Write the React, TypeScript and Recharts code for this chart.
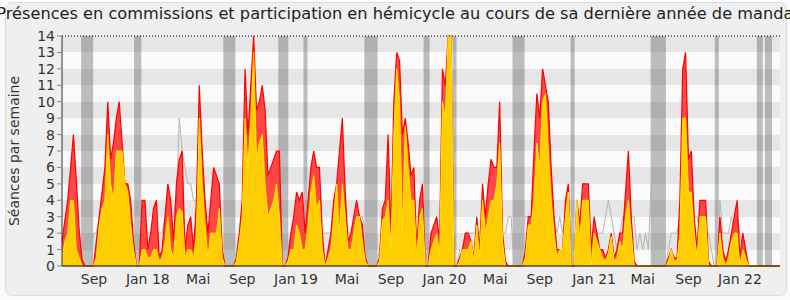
import React from "react";
import {
  AreaChart,
  Area,
  XAxis,
  YAxis,
  CartesianGrid,
  ReferenceArea,
  ReferenceLine,
  Label,
} from "recharts";

// séances par semaine, une valeur par semaine (juin 2017 -> mars 2022)
const presenceTotale = [
  1.5, 2.8, 4, 6, 8, 5.2, 2.2, 0.4, 0, 0, 0, 0, 1.5, 3, 4.5, 6, 10, 6.5, 7.5, 9,
  10, 7.5, 5, 5, 4, 1.5, 0, 0, 4, 4, 1, 2, 3.5, 4, 0.5, 1, 3, 5, 4, 1.5,
  5, 6.5, 7, 1, 2.5, 3, 1, 4, 11, 7, 4, 2, 4, 6, 5.5, 5, 1, 0, 0, 0,
  0, 0.5, 2, 4, 12, 8, 11, 14, 9.5, 10, 11, 9.5, 5.5, 6, 6.5, 7, 7, 0, 0, 0.5,
  2, 3, 4.5, 4, 4.5, 2, 4, 6, 7, 6, 6, 2, 0, 1, 2, 4, 5, 7, 9, 4.5,
  1.5, 2, 3, 4, 3, 2.5, 0.5, 0, 0, 0, 0, 0.5, 3.5, 4, 8, 2, 10, 13, 12.5, 8,
  9, 7.5, 5.5, 6, 1, 4, 5, 0, 0, 2, 2.5, 3, 1.5, 12, 11, 14, 14, 0, 0, 0.5,
  1, 2, 2, 1.5, 0.5, 3, 1, 5, 3, 5, 6.5, 6, 6, 10, 2, 0.3, 0, 0, 0, 0,
  0, 0, 1, 3, 3, 7, 10.5, 9, 12, 11, 10, 6, 3, 1, 1, 1, 4, 5, 0, 0,
  4, 2.5, 5, 5, 5, 1, 3, 2, 1, 1, 0.5, 1, 2, 0.5, 1, 2, 2, 4.5, 7, 3,
  0.3, 0, 0, 0, 0, 0, 0, 0, 0, 0, 0, 0, 0.5, 1, 0.5, 0.5, 4, 12, 13, 6.5,
  7, 3, 1, 4, 4, 4, 0.3, 0, 0, 0, 3, 1, 0.3, 1, 2, 3, 4, 0.5, 2, 1,
  0, 0, 0, 0, 0, 0, 0, 0, 0, 0, 0, 0,
];

const presenceCommission = [
  0.5, 1.5, 2, 4, 4, 1, 0.5, 0, 0, 0, 0, 0, 0.5, 2.5, 3.5, 4, 8, 5, 4, 7,
  7, 7, 5, 4.5, 2.5, 1, 0, 0, 1, 1, 0.5, 0.5, 1, 1, 0.3, 0.5, 1.5, 3, 1, 0.5,
  3, 3.5, 3.3, 0.5, 1, 1, 0.5, 2, 9, 5, 2.5, 0.5, 2, 2, 2, 3.5, 0.5, 0, 0, 0,
  0, 0.3, 1.5, 3, 9, 6, 9, 13, 6.5, 7.5, 8, 5, 3, 3.5, 4, 5, 3, 0, 0, 0.3,
  1, 1, 2.5, 2, 1, 1, 2.5, 4.5, 5.5, 3.5, 4, 1, 0, 0.5, 1, 3, 5, 2, 5, 3,
  1, 1, 2, 3, 3, 1.5, 0.3, 0, 0, 0, 0, 0.3, 2.8, 3, 4, 1, 8, 12, 10, 2,
  8.5, 6, 4, 4, 0.5, 3, 3.5, 0, 0, 1, 1.5, 2, 0.5, 10, 9, 14, 14, 0, 0, 0.3,
  1, 1, 1, 1.5, 0.3, 2.5, 0.5, 4, 2, 3, 4, 4, 5, 7.5, 1.5, 0, 0, 0, 0, 0,
  0, 0, 0.5, 2.5, 2.5, 4, 7.5, 6, 10, 10.5, 7, 4, 2, 0.5, 1, 1, 3, 4.5, 0, 0,
  4, 1.5, 4, 4, 4, 0, 2, 1.5, 1, 0.5, 0.3, 0.8, 1.8, 0.3, 0.5, 1.5, 1, 3, 4, 2,
  0, 0, 0, 0, 0, 0, 0, 0, 0, 0, 0, 0, 0.3, 1, 0.3, 0.3, 2, 9, 9, 4.5,
  4.5, 2, 0.5, 3, 3, 3, 0, 0, 0, 0, 2, 0.5, 0, 0.5, 1.5, 2, 2, 0, 1, 0.5,
  0, 0, 0, 0, 0, 0, 0, 0, 0, 0, 0, 0,
];

const presenceMediane = [
  1, 2, 2, 3, 3, 2, 1, 0, 0, 0, 0, 2, 2, 3, 3, 4, 4, 4, 4, 4,
  4, 4, 3, 3, 3, 1, 0, 0, 2, 2, 2, 2, 2, 2, 2, 2, 3, 3, 3, 3,
  4, 9, 7, 6, 5, 5, 4, 4, 4, 4, 3, 3, 3, 3, 3, 3, 1, 0, 0, 0,
  0, 1, 2, 3, 4, 4, 4, 4, 4, 4, 4, 4, 3, 3, 3, 3, 3, 0, 0, 1,
  2, 2, 3, 3, 2, 1, 3, 3, 3, 3, 3, 2, 2, 2, 2, 3, 3, 3, 3, 3,
  2, 2, 2, 3, 3, 3, 2, 0, 0, 0, 0, 1, 2, 3, 3, 3, 4, 4, 4, 4,
  4, 4, 3, 3, 3, 3, 3, 0, 0, 2, 2, 2, 2, 4, 4, 4, 4, 0, 0, 1,
  1, 2, 2, 2, 2, 2, 2, 3, 3, 3, 3, 3, 3, 3, 2, 2, 3, 3, 0, 0,
  0, 2, 3, 3, 3, 3, 4, 4, 3, 4, 3, 4, 3, 2, 3, 2, 3, 2, 0, 0,
  2, 2, 3, 3, 2, 2, 2, 2, 2, 2, 3, 4, 3, 2, 1, 2, 3, 2, 3, 3,
  3, 1, 2, 1, 2, 1, 5, 0, 0, 0, 0, 0, 1, 2, 2, 2, 3, 4, 4, 4,
  3, 3, 3, 2, 2, 2, 2, 1, 0, 0, 4, 2, 2, 2, 3, 2, 3, 2, 1, 1,
  0, 0, 0, 0, 0, 0, 0, 0, 0, 0, 0, 0,
];

// semaines sans séance (début, fin)
const vacances = [
  [6.7, 10.9], [25.2, 27.7], [56.4, 60.6], [75.6, 79.1], [84.4, 85.8],
  [105.7, 110.3], [126.4, 128.5], [136.5, 137.9], [157.5, 161.7],
  [177.8, 179.2], [205.8, 211.1], [228.2, 229.6], [242.9, 245],
  [245.7, 248.2], [248.9, 251.3],
];

const tickPositions = [11.2, 30, 47.6, 63, 81.8, 99.6, 115, 133.7, 151.5, 167, 186, 203, 219, 237];
const tickLabels = ["Sep", "Jan 18", "Mai", "Sep", "Jan 19", "Mai", "Sep", "Jan 20", "Mai", "Sep", "Jan 21", "Mai", "Sep", "Jan 22"];
const yTicks = [0, 1, 2, 3, 4, 5, 6, 7, 8, 9, 10, 11, 12, 13, 14];

const data = presenceTotale.map((v, i) => ({
  semaine: i,
  total: v,
  commission: presenceCommission[i],
  mediane: presenceMediane[i],
}));

const font = "'DejaVu Sans', Verdana, sans-serif";

export default function App() {
  return (
    <div
      style={{
        position: "fixed",
        left: 0,
        top: 0,
        width: 790,
        height: 300,
        background: "#fafafa",
        fontFamily: font,
        overflow: "hidden",
      }}
    >
      <div
        style={{
          position: "absolute",
          left: 5,
          top: 2,
          width: 780,
          height: 292,
          border: "1px solid #dcdcdc",
          borderRadius: 7,
          background: "#efefef",
        }}
      />
      <div
        style={{
          position: "absolute",
          left: 3,
          top: 4,
          width: 790,
          display: "flex",
          justifyContent: "center",
          whiteSpace: "nowrap",
          fontSize: 16.2,
          color: "#222",
        }}
      >
        <span>Présences en commissions et participation en hémicycle au cours de sa dernière année de mandat</span>
      </div>
      <div style={{ position: "absolute", left: 0, top: 0 }}>
        <AreaChart
          width={790}
          height={300}
          data={data}
          margin={{ top: 36, right: 10, left: 0, bottom: 0 }}
          style={{ fontFamily: font }}
        >
          <CartesianGrid
            vertical={false}
            stroke="none"
            horizontalFill={["#e6e6e6", "#fafafa"]}
            fillOpacity={1}
          />
          {vacances.map(([a, b], k) => (
            <ReferenceArea
              key={k}
              x1={a}
              x2={b}
              y1={0}
              y2={14}
              fill="#333333"
              fillOpacity={0.3}
              stroke="none"
            />
          ))}
          <XAxis
            dataKey="semaine"
            type="number"
            domain={[0, 251]}
            ticks={tickPositions}
            interval={0}
            tickFormatter={(v) => tickLabels[tickPositions.indexOf(v)] ?? ""}
            tickLine={false}
            axisLine={{ stroke: "#000" }}
            tick={{ fill: "#333", fontSize: 14 }}
            height={34}
          />
          <YAxis
            domain={[0, 14]}
            ticks={yTicks}
            interval={0}
            width={62}
            tickSize={5}
            tickLine={{ stroke: "#888" }}
            axisLine={{ stroke: "#333" }}
            tick={{ fill: "#333", fontSize: 14 }}
          >
            <Label
              value="Séances par semaine"
              angle={-90}
              position="insideLeft"
              offset={14}
              style={{ textAnchor: "middle", fill: "#333", fontSize: 14 }}
            />
          </YAxis>
          <Area
            type="linear"
            dataKey="mediane"
            stroke="#b4b4b4"
            strokeWidth={1}
            fill="none"
            dot={false}
            activeDot={false}
            isAnimationActive={false}
          />
          <Area
            type="linear"
            dataKey="total"
            stroke="#ff0000"
            strokeWidth={1.2}
            fill="#ff3838"
            fillOpacity={0.92}
            dot={false}
            activeDot={false}
            isAnimationActive={false}
          />
          <Area
            type="linear"
            dataKey="commission"
            stroke="#ffe600"
            strokeWidth={1}
            fill="#ffd500"
            fillOpacity={0.95}
            dot={false}
            activeDot={false}
            isAnimationActive={false}
          />
          <ReferenceLine y={14} stroke="#000" strokeDasharray="1 2" />
        </AreaChart>
      </div>
    </div>
  );
}
